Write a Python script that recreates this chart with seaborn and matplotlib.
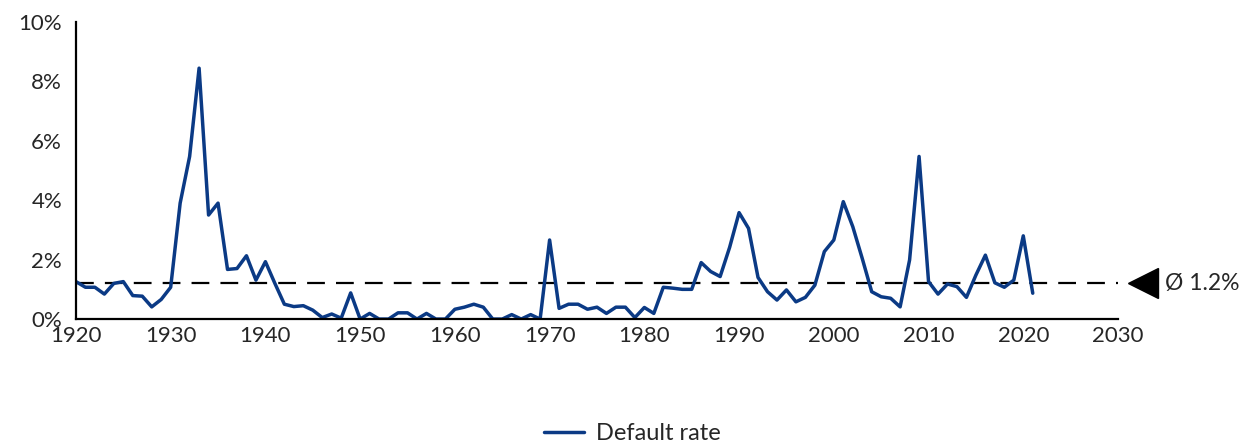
import pandas as pd
import matplotlib.pyplot as plt
import seaborn as sns

# Annual default rate (%)
years = list(range(1920, 2022))
default_rate = [
    1.26, 1.07, 1.07, 0.84, 1.20, 1.26, 0.79, 0.77, 0.41, 0.66,  # 1920s
    1.07, 3.90, 5.47, 8.44, 3.50, 3.90, 1.67, 1.70, 2.13, 1.31,  # 1930s
    1.93, 1.20, 0.50, 0.42, 0.45, 0.30, 0.05, 0.17, 0.03, 0.88,  # 1940s
    0.00, 0.19, 0.00, 0.00, 0.21, 0.21, 0.00, 0.19, 0.00, 0.00,  # 1950s
    0.33, 0.40, 0.50, 0.40, 0.00, 0.00, 0.15, 0.00, 0.15, 0.00,  # 1960s
    2.66, 0.36, 0.50, 0.50, 0.33, 0.40, 0.19, 0.40, 0.40, 0.05,  # 1970s
    0.39, 0.19, 1.07, 1.04, 1.00, 1.00, 1.90, 1.60, 1.43, 2.41,  # 1980s
    3.58, 3.05, 1.40, 0.92, 0.64, 0.98, 0.58, 0.73, 1.14, 2.27,  # 1990s
    2.66, 3.95, 3.11, 2.04, 0.92, 0.75, 0.70, 0.41, 1.99, 5.47,  # 2000s
    1.26, 0.84, 1.18, 1.09, 0.73, 1.48, 2.15, 1.22, 1.07, 1.31,  # 2010s
    2.80, 0.87,                                                  # 2020s
]
average_rate = 1.2
series_name = "Default rate"
x_ticks = [1920, 1930, 1940, 1950, 1960, 1970, 1980, 1990, 2000, 2010, 2020, 2030]
y_ticks = [0, 2, 4, 6, 8, 10]

df = pd.DataFrame({"year": years, "rate": default_rate})

sns.set_style("white")
plt.rcParams['font.family'] = ['Lato', 'DejaVu Sans']

fig = plt.figure(figsize=(12.45, 4.45), dpi=100)
ax = fig.add_axes([0.061, 0.283, 0.837, 0.668])

navy = "#0B3A85"
sns.lineplot(data=df, x="year", y="rate", ax=ax, color=navy, linewidth=2.5,
             label=series_name, legend=False)

# average line with marker and label on the right
ax.axhline(average_rate, color="black", linewidth=1.6, dashes=(8, 5), zorder=1)
ax.plot([2032.6], [average_rate], marker="<", markersize=21, color="black",
        clip_on=False)
ax.text(2035.0, average_rate, "Ø 1.2%", fontsize=16.5, va="center", ha="left",
        color="#262626", clip_on=False)

ax.set_xlim(1920, 2030)
ax.set_ylim(0, 10)
ax.set_xticks(x_ticks)
ax.set_yticks(y_ticks)
ax.set_yticklabels([f"{t}%" for t in y_ticks])
ax.tick_params(axis="both", length=0, labelsize=16, colors="#262626")
ax.tick_params(axis="x", pad=5)
ax.tick_params(axis="y", pad=10)
ax.set_xlabel("")
ax.set_ylabel("")

for side in ["top", "right"]:
    ax.spines[side].set_visible(False)
for side in ["left", "bottom"]:
    ax.spines[side].set_color("black")
    ax.spines[side].set_linewidth(1.6)

handles, labels = ax.get_legend_handles_labels()
fig.legend(handles, labels, loc="lower center", bbox_to_anchor=(0.508, -0.045),
           frameon=False, fontsize=17, handlelength=1.7, handletextpad=0.5)

plt.savefig("out.png", dpi=100)
